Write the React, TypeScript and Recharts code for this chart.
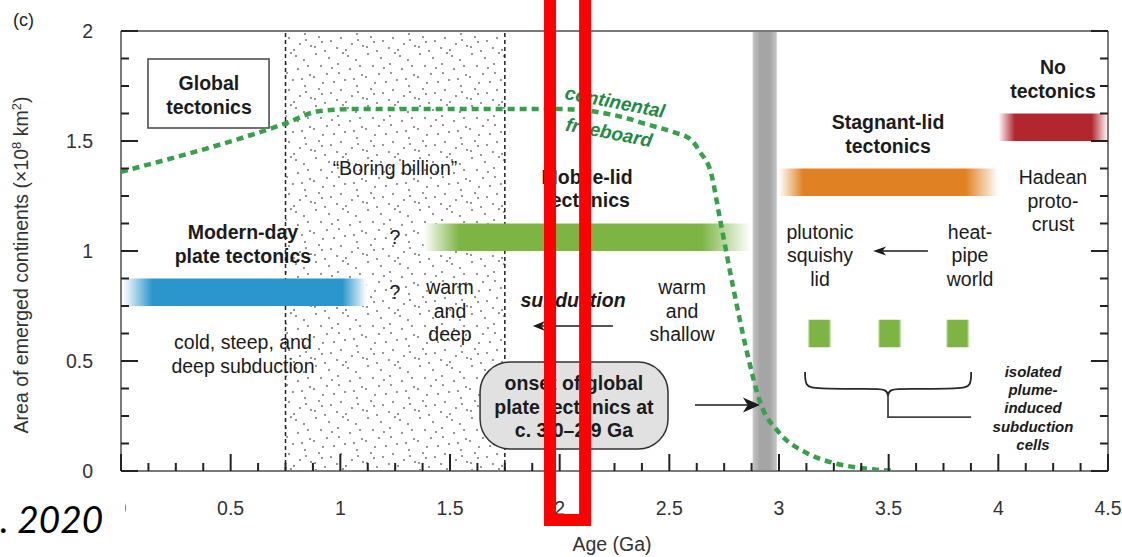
import React from "react";
import {
  ComposedChart,
  Line,
  XAxis,
  YAxis,
  ReferenceArea,
  ReferenceLine,
  ReferenceDot,
} from "recharts";

const FONT = "'Liberation Sans', Arial, Helvetica, sans-serif";
const INK = "#1b1b1b";
const AXIS = { stroke: "#7a7a7a", strokeWidth: 2 };

// continental freeboard (green dashed curve)
const freeboardAge = [0, 0.75, 0.9, 1.05, 1.5, 2.0, 2.15, 2.3, 2.4, 2.52, 2.6, 2.64, 2.69, 2.73, 2.79, 2.855, 2.915, 3.0, 3.13, 3.25, 3.38, 3.52];
const freeboardArea = [1.36, 1.58, 1.635, 1.645, 1.645, 1.645, 1.635, 1.605, 1.575, 1.54, 1.505, 1.45, 1.355, 1.15, 0.84, 0.535, 0.31, 0.175, 0.08, 0.036, 0.013, 0];

const ageLabels = [0, 0.5, 1, 1.5, 2, 2.5, 3, 3.5, 4, 4.5];
const areaLabels = [0, 0.5, 1, 1.5, 2];
const ageTicks = Array.from({ length: 37 }, (_, i) => i * 0.125);
const areaTicks = Array.from({ length: 17 }, (_, i) => i * 0.125);

// tectonic regime bars: age range (Ga) and area range
const regimes = [
  { id: "modern", age: [0.01, 1.12], area: [0.75, 0.875] },
  { id: "mobile", age: [1.38, 2.87], area: [1.0, 1.125] },
  { id: "stagnant", age: [3.0, 4.0], area: [1.25, 1.375] },
  { id: "none", age: [4.0, 4.5], area: [1.5, 1.625] },
  { id: "cell1", age: [3.13, 3.24], area: [0.5625, 0.6875] },
  { id: "cell2", age: [3.45, 3.56], area: [0.5625, 0.6875] },
  { id: "cell3", age: [3.76, 3.87], area: [0.5625, 0.6875] },
];
const regimeFill: Record<string, [string, number, number]> = {
  modern: ["#2b96cc", 0.12, 0.1],
  mobile: ["#7db443", 0.11, 0.15],
  stagnant: ["#e08223", 0.11, 0.15],
  none: ["#b2272e", 0.15, 0.15],
  cell1: ["#7db443", 0.1, 0.12],
  cell2: ["#7db443", 0.1, 0.12],
  cell3: ["#7db443", 0.1, 0.12],
};

const boringBillion = [0.75, 1.75];
const onsetBand = [2.88, 2.99];
const globalBox = { age: [0.123, 0.675], area: [1.559, 1.873] };
const onsetBox = { age: [1.637, 2.494], area: [0.1, 0.495] };
const highlight = { age: [1.956, 2.116], area: [-0.223, 2.2] };

const braceLeft = [
  { x: 3.119, y: 0.45 }, { x: 3.119, y: 0.386 }, { x: 3.164, y: 0.373 },
  { x: 3.415, y: 0.373 }, { x: 3.492, y: 0.373 }, { x: 3.497, y: 0.341 },
];
const braceRight = [
  { x: 3.876, y: 0.45 }, { x: 3.876, y: 0.386 }, { x: 3.83, y: 0.373 },
  { x: 3.579, y: 0.373 }, { x: 3.502, y: 0.373 }, { x: 3.497, y: 0.341 },
];
const braceStem = [{ x: 3.497, y: 0.341 }, { x: 3.497, y: 0.245 }, { x: 3.876, y: 0.245 }];

const arrows = [
  { from: [2.243, 0.659], to: [1.878, 0.659], len: 12, half: 5 },
  { from: [3.679, 1.0], to: [3.429, 1.0], len: 13, half: 4.5 },
  { from: [2.617, 0.3], to: [2.913, 0.3], len: 17, half: 7.5 },
];

type Kind = "bold" | "plain" | "boldItalic" | "small" | "green";
const notes: { x: number; y: number; lines: string[]; kind: Kind }[] = [
  { x: 0.401, y: 1.709, lines: ["Global", "tectonics"], kind: "bold" },
  { x: 1.249, y: 1.377, lines: ["\u201CBoring billion\u201D"], kind: "plain" },
  { x: 2.125, y: 1.284, lines: ["Mobile-lid", "tectonics"], kind: "bold" },
  { x: 2.239, y: 1.609, lines: ["continental", "freeboard"], kind: "green" },
  { x: 0.556, y: 1.03, lines: ["Modern-day", "plate tectonics"], kind: "bold" },
  { x: 0.556, y: 0.53, lines: ["cold, steep, and", "deep subduction"], kind: "plain" },
  { x: 1.249, y: 1.064, lines: ["?"], kind: "plain" },
  { x: 1.249, y: 0.814, lines: ["?"], kind: "plain" },
  { x: 1.5, y: 0.727, lines: ["warm", "and", "deep"], kind: "plain" },
  { x: 2.061, y: 0.777, lines: ["subduction"], kind: "boldItalic" },
  { x: 2.558, y: 0.727, lines: ["warm", "and", "shallow"], kind: "plain" },
  { x: 2.065, y: 0.292, lines: ["onset of global", "plate tectonics at", "c. 3.0\u20132.9 Ga"], kind: "bold" },
  { x: 3.497, y: 1.532, lines: ["Stagnant-lid", "tectonics"], kind: "bold" },
  { x: 4.249, y: 1.782, lines: ["No", "tectonics"], kind: "bold" },
  { x: 4.249, y: 1.227, lines: ["Hadean", "proto-", "crust"], kind: "plain" },
  { x: 3.187, y: 0.979, lines: ["plutonic", "squishy", "lid"], kind: "plain" },
  { x: 3.871, y: 0.979, lines: ["heat-", "pipe", "world"], kind: "plain" },
  { x: 4.158, y: 0.286, lines: ["isolated", "plume-", "induced", "subduction", "cells"], kind: "small" },
];

const kindStyle: Record<Kind, { size: number; weight: number; italic: boolean; lh: number; fill: string; rot: number }> = {
  bold: { size: 19.5, weight: 700, italic: false, lh: 23.5, fill: INK, rot: 0 },
  plain: { size: 19.5, weight: 400, italic: false, lh: 23.5, fill: INK, rot: 0 },
  boldItalic: { size: 19.5, weight: 700, italic: true, lh: 23.5, fill: INK, rot: 0 },
  small: { size: 15, weight: 700, italic: true, lh: 18.3, fill: INK, rot: 0 },
  green: { size: 19, weight: 700, italic: true, lh: 31, fill: "#1e8a46", rot: 11 },
};

const freeboard = freeboardAge.map((x, i) => ({ x, y: freeboardArea[i] }));

// speckle texture for the "boring billion" shading
const stippleDots = [
  [4, 2], [17, 6], [31, 1], [44, 8], [36, 4], [9, 14], [26, 12], [20, 16],
  [38, 17], [48, 14], [50, 23], [2, 25], [15, 22], [27, 21], [42, 27],
  [11, 31], [22, 30], [33, 28], [45, 34], [7, 37], [29, 38], [19, 41],
  [40, 44], [51, 46], [3, 47], [13, 51], [25, 48], [34, 50], [46, 40], [10, 42],
];

const isMajor = (v: number) => Math.abs(v * 2 - Math.round(v * 2)) < 1e-9;

const BottomTick = (p: any) => {
  const v = p.payload.value;
  const major = isMajor(v);
  return (
    <g>
      <line x1={p.x} x2={p.x} y1={p.y} y2={p.y - (major ? 17 : 8)} stroke="#222" strokeWidth={2} />
      {major && ageLabels.includes(v) && (
        <text x={p.x} y={p.y + 44} textAnchor="middle" fontSize={19.5} fill="#333" fontFamily={FONT}>
          {v}
        </text>
      )}
    </g>
  );
};

const TopTick = (p: any) => {
  const major = isMajor(p.payload.value);
  return <line x1={p.x} x2={p.x} y1={p.y} y2={p.y + (major ? 17 : 8)} stroke="#222" strokeWidth={2} />;
};

const LeftTick = (p: any) => {
  const v = p.payload.value;
  const major = isMajor(v);
  return (
    <g>
      <line x1={p.x} x2={p.x + (major ? 17 : 8)} y1={p.y} y2={p.y} stroke="#222" strokeWidth={2} />
      {major && areaLabels.includes(v) && (
        <text x={p.x - 28} y={p.y + 7} textAnchor="end" fontSize={19.5} fill="#333" fontFamily={FONT}>
          {v}
        </text>
      )}
    </g>
  );
};

const RightTick = (p: any) => {
  const major = isMajor(p.payload.value);
  return <line x1={p.x} x2={p.x - (major ? 17 : 8)} y1={p.y} y2={p.y} stroke="#222" strokeWidth={2} />;
};

const AreaTitle = () => (
  <text
    x={28}
    y={265}
    transform="rotate(-90 28 265)"
    textAnchor="middle"
    fontSize={19.5}
    fill="#333"
    fontFamily={FONT}
  >
    Area of emerged continents (×10
    <tspan dy={-7} fontSize={13}>8</tspan>
    <tspan dy={7}> km</tspan>
    <tspan dy={-7} fontSize={13}>2</tspan>
    <tspan dy={7}>)</tspan>
  </text>
);

const AgeTitle = () => (
  <text x={612} y={551} textAnchor="middle" fontSize={19.5} fill="#333" fontFamily={FONT}>
    Age (Ga)
  </text>
);

const noteShape = (n: (typeof notes)[number]) => (p: any) => {
  const s = kindStyle[n.kind];
  const k = n.lines.length;
  return (
    <text
      textAnchor="middle"
      fontFamily={FONT}
      fontSize={s.size}
      fontWeight={s.weight}
      fontStyle={s.italic ? "italic" : "normal"}
      fill={s.fill}
      transform={s.rot ? `rotate(${s.rot} ${p.cx} ${p.cy})` : undefined}
    >
      {n.lines.map((l, i) => (
        <tspan key={i} x={p.cx} y={p.cy + (i - (k - 1) / 2) * s.lh + s.size * 0.35}>
          {l}
        </tspan>
      ))}
    </text>
  );
};

const arrowShape = (len: number, half: number) => (p: any) => {
  const { x1, y1, x2, y2 } = p;
  const a = Math.atan2(y2 - y1, x2 - x1);
  const ux = Math.cos(a);
  const uy = Math.sin(a);
  const bx = x2 - ux * len;
  const by = y2 - uy * len;
  const notch = len * 0.72;
  const pts = [
    [x2, y2],
    [bx - uy * half, by + ux * half],
    [x2 - ux * notch, y2 - uy * notch],
    [bx + uy * half, by - ux * half],
  ];
  return (
    <g>
      <line x1={x1} y1={y1} x2={x2 - ux * notch} y2={y2 - uy * notch} stroke={INK} strokeWidth={1.5} />
      <polygon points={pts.map((q) => q.join(",")).join(" ")} fill={INK} />
    </g>
  );
};

export default function App() {
  return (
    <div style={{ position: "absolute", left: 0, top: 0, width: 1122, height: 557, background: "#fff" }}>
      <ComposedChart width={1122} height={557} margin={{ top: 30, right: 0, bottom: 0, left: 0 }}>
        <defs>
          <pattern id="stipple" width={52} height={52} patternUnits="userSpaceOnUse">
            <rect width={52} height={52} fill="#fff" />
            {stippleDots.map(([cx, cy], i) => (
              <circle key={i} cx={cx} cy={cy} r={0.95} fill="#6a6a6a" />
            ))}
          </pattern>
          <linearGradient id="grayBand" x1="0" x2="1" y1="0" y2="0">
            <stop offset="0" stopColor="#c6c6c6" />
            <stop offset="0.3" stopColor="#a5a5a5" />
            <stop offset="0.7" stopColor="#a5a5a5" />
            <stop offset="1" stopColor="#c6c6c6" />
          </linearGradient>
          {regimes.map((r) => {
            const [c, fl, fr] = regimeFill[r.id];
            return (
              <linearGradient key={r.id} id={`g-${r.id}`} x1="0" x2="1" y1="0" y2="0">
                <stop offset="0" stopColor="#ffffff" />
                <stop offset={fl} stopColor={c} />
                <stop offset={1 - fr} stopColor={c} />
                <stop offset="1" stopColor="#ffffff" />
              </linearGradient>
            );
          })}
        </defs>

        <XAxis
          dataKey="x"
          type="number"
          domain={[0, 4.5]}
          ticks={ageTicks}
          interval={0}
          allowDataOverflow
          height={86}
          tickSize={0}
          tickMargin={0}
          tickLine={false}
          axisLine={AXIS}
          tick={BottomTick}
          label={{ content: AgeTitle }}
        />
        <XAxis
          xAxisId="top"
          orientation="top"
          type="number"
          domain={[0, 4.5]}
          ticks={ageTicks}
          interval={0}
          allowDataOverflow
          height={1}
          tickSize={0}
          tickMargin={0}
          tickLine={false}
          axisLine={AXIS}
          tick={TopTick}
        />
        <YAxis
          type="number"
          domain={[0, 2]}
          ticks={areaTicks}
          interval={0}
          allowDataOverflow
          width={121}
          tickSize={0}
          tickMargin={0}
          tickLine={false}
          axisLine={AXIS}
          tick={LeftTick}
          label={{ content: AreaTitle }}
        />
        <YAxis
          yAxisId="right"
          orientation="right"
          type="number"
          domain={[0, 2]}
          ticks={areaTicks}
          interval={0}
          allowDataOverflow
          width={14}
          tickSize={0}
          tickMargin={0}
          tickLine={false}
          axisLine={AXIS}
          tick={RightTick}
        />

        <ReferenceArea
          x1={boringBillion[0]}
          x2={boringBillion[1]}
          y1={0}
          y2={2}
          fill="url(#stipple)"
          fillOpacity={1}
          stroke="none"
          zIndex={10}
        />
        {boringBillion.map((a) => (
          <ReferenceLine key={a} x={a} stroke="#222" strokeWidth={1.5} strokeDasharray="4 3" zIndex={20} />
        ))}
        <ReferenceArea
          x1={onsetBand[0]}
          x2={onsetBand[1]}
          y1={0}
          y2={2}
          fill="url(#grayBand)"
          fillOpacity={1}
          stroke="none"
          zIndex={30}
        />
        {regimes.map((r) => (
          <ReferenceArea
            key={r.id}
            x1={r.age[0]}
            x2={r.age[1]}
            y1={r.area[0]}
            y2={r.area[1]}
            fill={`url(#g-${r.id})`}
            fillOpacity={1}
            stroke="none"
            zIndex={40}
          />
        ))}
        <ReferenceArea
          x1={globalBox.age[0]}
          x2={globalBox.age[1]}
          y1={globalBox.area[0]}
          y2={globalBox.area[1]}
          fill="#fff"
          fillOpacity={1}
          stroke="#444"
          strokeWidth={1.5}
          zIndex={50}
        />
        <ReferenceArea
          x1={onsetBox.age[0]}
          x2={onsetBox.age[1]}
          y1={onsetBox.area[0]}
          y2={onsetBox.area[1]}
          zIndex={50}
          shape={(p: any) => (
            <rect x={p.x} y={p.y} width={p.width} height={p.height} rx={30} ry={30} fill="#e1e1e1" stroke="#333" strokeWidth={1.5} />
          )}
        />

        {[braceLeft, braceRight].map((d, i) => (
          <Line
            key={i}
            data={d}
            dataKey="y"
            type="basis"
            stroke="#2a2a2a"
            strokeWidth={1.8}
            dot={false}
            activeDot={false}
            legendType="none"
            isAnimationActive={false}
            zIndex={60}
          />
        ))}
        <Line
          data={braceStem}
          dataKey="y"
          type="linear"
          stroke="#444"
          strokeWidth={1.8}
          dot={false}
          activeDot={false}
          legendType="none"
          isAnimationActive={false}
          zIndex={60}
        />

        <Line
          data={freeboard}
          dataKey="y"
          type="monotone"
          stroke="#36a04a"
          strokeWidth={4.5}
          strokeDasharray="7 5"
          dot={false}
          activeDot={false}
          legendType="none"
          isAnimationActive={false}
          zIndex={70}
        />

        {arrows.map((a, i) => (
          <ReferenceLine
            key={i}
            segment={[
              { x: a.from[0], y: a.from[1] },
              { x: a.to[0], y: a.to[1] },
            ]}
            shape={arrowShape(a.len, a.half)}
            zIndex={80}
          />
        ))}

        {notes.map((n, i) => (
          <ReferenceDot key={i} x={n.x} y={n.y} r={0} ifOverflow="visible" shape={noteShape(n)} zIndex={90} />
        ))}

        <ReferenceArea
          x1={highlight.age[0]}
          x2={highlight.age[1]}
          y1={highlight.area[0]}
          y2={highlight.area[1]}
          ifOverflow="visible"
          fill="none"
          stroke="#ff0000"
          strokeWidth={12}
          zIndex={3000}
        />
      </ComposedChart>

      <svg
        width={1122}
        height={557}
        style={{ position: "absolute", left: 0, top: 0, pointerEvents: "none" }}
      >
        <text x={13} y={26} fontSize={18} fill="#222" fontFamily={FONT}>
          (c)
        </text>
        <rect x={0} y={488} width={125} height={69} fill="#fff" />
        <text x={0} y={533} fontSize={37} fontStyle="italic" fill="#000" fontFamily="Lato, 'Open Sans', sans-serif">
          . 2020
        </text>
      </svg>
    </div>
  );
}
